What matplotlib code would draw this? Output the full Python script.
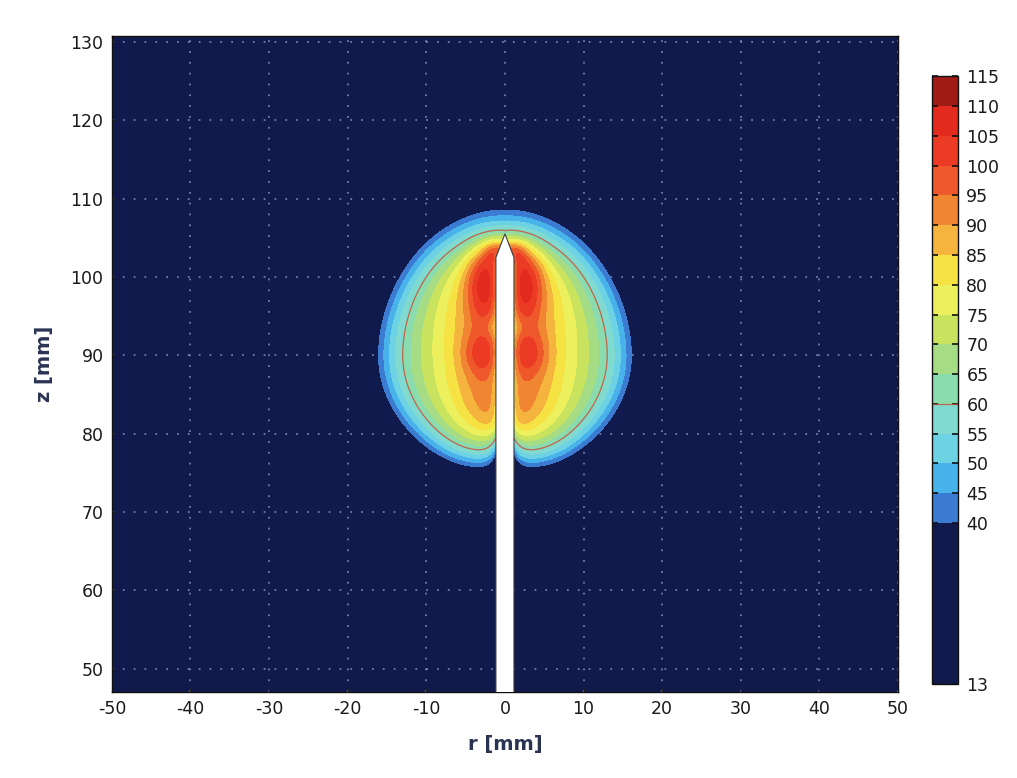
import numpy as np
import matplotlib
matplotlib.use('Agg')
import matplotlib.pyplot as plt
from matplotlib.colors import ListedColormap, BoundaryNorm
from matplotlib.patches import Polygon

plt.rcParams['axes.unicode_minus'] = False

# ---------------- data ----------------
levels = [13, 40, 45, 50, 55, 60, 65, 70, 75, 80, 85, 90, 95, 100, 105, 110, 115]
band_colors = ['#111a4c', '#3b7bd2', '#48b3ea', '#6dd2e4', '#80dad0', '#8adcae',
               '#a6dc84', '#c9e35e', '#ecf05c', '#f7e243', '#f5b43e', '#f08632',
               '#ef582a', '#ec3b24', '#e32a1f', '#a11b15']
r_ticks = [-50, -40, -30, -20, -10, 0, 10, 20, 30, 40, 50]
z_ticks = [50, 60, 70, 80, 90, 100, 110, 120, 130]
line_level = [60]

# temperature field description
broad_center_z = 90.0
broad_half_width = 16.0
broad_up = 18.5
broad_down = 14.3
broad_amp = 55.0
broad_edge_T = 40.0
broad_shape = 6.0
broad_top_power = 1.9
band_amp = 30.0
band_width = 8.3
band_z = [79.5, 104.6]
band_top_slope = 0.35
hot_r = [3.0, 2.6, 1.4, 0.0, 1.7]
hot_z = [90.2, 99.3, 103.3, 105.5, 93.6]
hot_sr = [1.7, 1.6, 1.0, 1.2, 0.9]
hot_sz = [1.9, 3.4, 1.2, 1.2, 1.0]
hot_amp = [10.5, 16.0, 10.0, 4.0, -4.0]
cool_amp = 16.0
cool_len = 0.7
needle_radius = 1.15
needle_cone_z = 102.5
needle_tip_z = 105.5
T_base = 13.0

# ---------------- field ----------------
r = np.linspace(-50, 50, 1001)
z = np.linspace(46, 132, 861)
RR, ZZ = np.meshgrid(r, z)
Ra = np.abs(RR)
dz = ZZ - broad_center_z
up = dz > 0
bz = np.where(up, broad_up, broad_down)
pw = np.where(up, broad_top_power, 2.0)
s = ((Ra / broad_half_width) ** pw + (np.abs(dz) / bz) ** pw) ** (1.0 / pw)
k = np.log(broad_amp / (broad_edge_T - T_base))
T = T_base + broad_amp * np.exp(-k * s ** broad_shape)


def sig(x):
    return 1.0 / (1.0 + np.exp(-x))


wlo = 0.5 + 0.35 * Ra
whi = 0.4 + 0.2 * Ra
zhi = band_z[1] - band_top_slope * Ra
win = sig((ZZ - band_z[0]) / wlo) * sig((zhi - ZZ) / whi)
T += band_amp * np.exp(-(Ra / band_width) ** 2) * win
for hr, hz, sr, sz, a in zip(hot_r, hot_z, hot_sr, hot_sz, hot_amp):
    T += a * np.exp(-((Ra - hr) ** 2) / (2 * sr ** 2) - ((ZZ - hz) ** 2) / (2 * sz ** 2))
T -= cool_amp * np.exp(-np.clip(Ra - needle_radius, 0, None) / cool_len) * sig((needle_cone_z + 0.3 - ZZ) / 0.6)
T = np.clip(T, levels[0] + 0.01, levels[-1] - 0.01)

# ---------------- plot ----------------
fig = plt.figure(figsize=(10.17, 7.78), dpi=100)
ax = fig.add_axes([0.110, 0.1105, 0.773, 0.8435])
cmap = ListedColormap(band_colors)
norm = BoundaryNorm(levels, cmap.N)

cf = ax.contourf(RR, ZZ, T, levels=levels, cmap=cmap, norm=norm, zorder=1)
ax.contourf(RR, ZZ, T, levels=levels[1:], colors=band_colors[1:], zorder=2)
cs = ax.contour(RR, ZZ, T, levels=line_level, colors=['#c9503a'], linewidths=0.9,
                alpha=0.85, zorder=3)

needle = Polygon([(-needle_radius, 40), (-needle_radius, needle_cone_z), (0, needle_tip_z),
                  (needle_radius, needle_cone_z), (needle_radius, 40)],
                 closed=True, facecolor='white', edgecolor='#3a3a3a', lw=0.8, zorder=4)
ax.add_patch(needle)

ax.set_xlim(-50, 50)
ax.set_ylim(47, 130.8)
ax.set_xticks(r_ticks)
ax.set_yticks(z_ticks)
ax.set_axisbelow('line')
ax.grid(True, linestyle=(0, (1, 5)), color='#8e9ed0', lw=1.3, alpha=0.75)
ax.tick_params(direction='in', length=3, color='#202020', labelsize=12.5, labelcolor='#1a1a1a', pad=6)
for sp in ax.spines.values():
    sp.set_color('#101010')
    sp.set_linewidth(1.0)
ax.set_xlabel('r [mm]', fontsize=14, fontweight='bold', color='#2a3352', labelpad=12)
ax.set_ylabel('z [mm]', fontsize=14, fontweight='bold', color='#2a3352', labelpad=12)

cax = fig.add_axes([0.9164, 0.121, 0.0256, 0.781])
cb = fig.colorbar(cf, cax=cax, spacing='proportional', ticks=levels)
cb.add_lines(cs)
cb.ax.tick_params(direction='in', length=4, width=1.2, color='#101010', labelsize=12.5,
                  left=True, right=True, labelcolor='#1a1a1a', pad=6)
cb.outline.set_edgecolor('#101010')
cb.outline.set_linewidth(1.0)

fig.savefig('out.png', dpi=100)
